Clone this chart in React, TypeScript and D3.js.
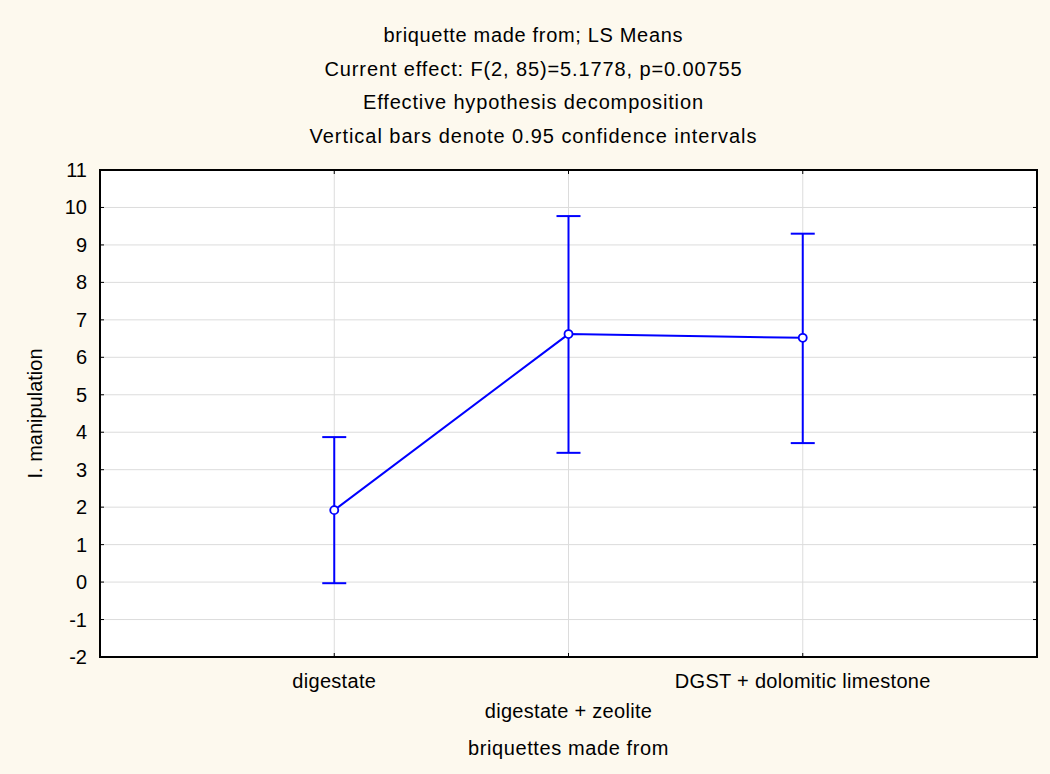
import { useEffect } from "react";
import * as d3 from "d3";

// --- данные ---
const categories = ["digestate", "digestate + zeolite", "DGST + dolomitic limestone"];
const means = [1.92, 6.62, 6.52];
const lower = [-0.03, 3.45, 3.71];
const upper = [3.87, 9.77, 9.3];
const yTicks = [-2, -1, 0, 1, 2, 3, 4, 5, 6, 7, 8, 9, 10, 11];
const titleLines = [
  "briquette made from; LS Means",
  "Current effect: F(2, 85)=5.1778, p=0.00755",
  "Effective hypothesis decomposition",
  "Vertical bars denote 0.95 confidence intervals",
];
const xTitle = "briquettes made from";
const yTitle = "I. manipulation";

const W = 1050;
const H = 774;
const PLOT = { left: 100, right: 1037, top: 170, bottom: 657 };
const FONT = "'Liberation Sans', Arial, sans-serif";
const BLUE = "#0000ff";
const BG = "#fdf9ee";
const FS = 20;
// ширина строк заголовка (в оригинале шрифт разрежен)
const TITLE_WIDTH = [299, 417, 340, 447];

export default function App() {
  useEffect(() => {
    document.body.style.margin = "0";
  }, []);

  const x = d3
    .scaleLinear()
    .domain([0, categories.length + 1])
    .range([PLOT.left, PLOT.right]);
  const y = d3.scaleLinear().domain([-2, 11]).range([PLOT.bottom, PLOT.top]);

  const line = d3
    .line<number>()
    .x((_, i) => x(i + 1))
    .y((d) => y(d));

  const gridX = d3.range(1, categories.length + 1);
  const capHalf = 12;

  return (
    <svg width={W} height={H} style={{ display: "block" }} fontFamily={FONT}>
      <rect x={0} y={0} width={W} height={H} fill={BG} />
      {titleLines.map((t, i) => (
        <text
          key={t}
          x={533 - TITLE_WIDTH[i] / 2}
          y={42 + i * 33.5}
          fontSize={FS}
          textLength={TITLE_WIDTH[i]}
          lengthAdjust="spacing"
          fill="#000"
        >
          {t}
        </text>
      ))}

      <rect
        x={PLOT.left}
        y={PLOT.top}
        width={PLOT.right - PLOT.left}
        height={PLOT.bottom - PLOT.top}
        fill="#fff"
      />
      {/* сетка */}
      {yTicks.map((t) => (
        <line
          key={"gy" + t}
          x1={PLOT.left}
          x2={PLOT.right}
          y1={y(t)}
          y2={y(t)}
          stroke="#dcdcdc"
          strokeWidth={1}
        />
      ))}
      {gridX.map((v) => (
        <line
          key={"gx" + v}
          x1={x(v)}
          x2={x(v)}
          y1={PLOT.top}
          y2={PLOT.bottom}
          stroke="#dcdcdc"
          strokeWidth={1}
        />
      ))}
      {/* засечки */}
      {yTicks.map((t) => (
        <g key={"ty" + t}>
          <line x1={PLOT.left} x2={PLOT.left + 4} y1={y(t)} y2={y(t)} stroke="#000" />
          <line x1={PLOT.right - 4} x2={PLOT.right} y1={y(t)} y2={y(t)} stroke="#000" />
          <text
            x={PLOT.left - 13}
            y={y(t)}
            dy="0.35em"
            textAnchor="end"
            fontSize={FS}
            fill="#000"
          >
            {t}
          </text>
        </g>
      ))}
      {gridX.map((v) => (
        <g key={"tx" + v}>
          <line x1={x(v)} x2={x(v)} y1={PLOT.top} y2={PLOT.top + 4} stroke="#000" />
          <line x1={x(v)} x2={x(v)} y1={PLOT.bottom - 4} y2={PLOT.bottom} stroke="#000" />
        </g>
      ))}
      <rect
        x={PLOT.left}
        y={PLOT.top}
        width={PLOT.right - PLOT.left}
        height={PLOT.bottom - PLOT.top}
        fill="none"
        stroke="#000"
        strokeWidth={2}
      />

      {/* данные */}
      {categories.map((c, i) => (
        <g key={c} stroke={BLUE} strokeWidth={2}>
          <line x1={x(i + 1)} x2={x(i + 1)} y1={y(lower[i])} y2={y(upper[i])} />
          <line x1={x(i + 1) - capHalf} x2={x(i + 1) + capHalf} y1={y(lower[i])} y2={y(lower[i])} />
          <line x1={x(i + 1) - capHalf} x2={x(i + 1) + capHalf} y1={y(upper[i])} y2={y(upper[i])} />
        </g>
      ))}
      <path d={line(means) ?? ""} fill="none" stroke={BLUE} strokeWidth={2} />
      {means.map((m, i) => (
        <circle key={i} cx={x(i + 1)} cy={y(m)} r={4} fill="#fff" stroke={BLUE} strokeWidth={1.8} />
      ))}

      {/* подписи категорий, чередуются по высоте */}
      {categories.map((c, i) => (
        <text
          key={"lbl" + c}
          x={x(i + 1)}
          y={i % 2 === 0 ? 688 : 718}
          textAnchor="middle"
          fontSize={FS}
          letterSpacing={0.3}
          fill="#000"
        >
          {c}
        </text>
      ))}
      <text x={x(2)} y={755} textAnchor="middle" fontSize={FS} letterSpacing={0.6} fill="#000">
        {xTitle}
      </text>
      <text
        transform={`translate(42, ${(PLOT.top + PLOT.bottom) / 2}) rotate(-90)`}
        textAnchor="middle"
        fontSize={FS}
        fill="#000"
      >
        {yTitle}
      </text>
    </svg>
  );
}
